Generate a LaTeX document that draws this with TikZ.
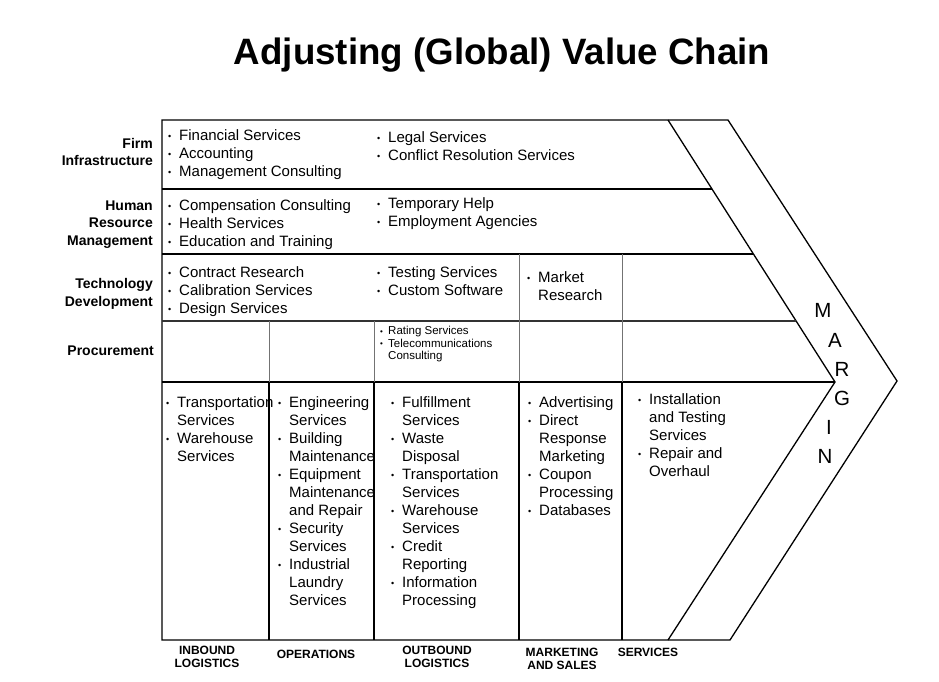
\documentclass[tikz,border=0pt]{standalone}
\usepackage{fontspec}
\setmainfont{Liberation Sans}
\newcommand\bt{\makebox[11pt][l]{\raisebox{1pt}{\fontsize{9}{9}\selectfont\textbullet}}}
\newcommand\bs{\makebox[8pt][l]{\raisebox{.5pt}{\fontsize{8}{8}\selectfont\textbullet}}}
\newcommand\lst[1]{\begin{tabular}[t]{@{}l@{}l@{}}#1\end{tabular}}
\newcommand\rlst[1]{\begin{tabular}[t]{@{}r@{}}#1\end{tabular}}
\newcommand\clst[1]{\begin{tabular}[t]{@{}c@{}}#1\end{tabular}}
\begin{document}
\begin{tikzpicture}
  [x=1pt,y=-1pt,every node/.style={inner sep=0pt},
   lbl/.style={anchor=base east,font=\bfseries\fontsize{14}{17.7}\selectfont},
   cell/.style={anchor=base west,font=\fontsize{15}{18}\selectfont},
   rcell/.style={anchor=base west,font=\fontsize{11.5}{12.7}\selectfont},
   act/.style={anchor=base,font=\bfseries\fontsize{12}{13}\selectfont},
   mgn/.style={anchor=base,font=\fontsize{20.5}{21}\selectfont},
   rule/.style={line width=1.3pt},
   thin/.style={line width=.9pt,black!55}]
  \useasboundingbox (0,0) rectangle (939,681);
  % title
  \node[anchor=base,font=\bfseries\fontsize{36.7}{40}\selectfont] (title) at (502,64)
    {Adjusting (Global) Value Chain};
  % frame and margin arrow
  \draw[rule] (162,120) -- (728,120) -- (897,381) -- (730,640) -- (162,640) -- cycle;
  \draw[rule] (668,120) -- (835,382) -- (668,640);
  \draw[rule] (162,382) -- (835,382);
  \foreach \y/\x in {189/712,254/753}
    \draw[rule] (162,\y) -- (\x,\y);
  \draw[line width=1.1pt,black!80] (162,321) -- (796,321);
  \foreach \x in {269,374,519,622}
    \draw[rule] (\x,382) -- (\x,640);
  \foreach \x in {519,622}
    \draw[thin] (\x,254) -- (\x,382);
  \foreach \x in {269,374}
    \draw[thin] (\x,321) -- (\x,382);
  % support activities
  \node[lbl] (firm) at (153,148) {\rlst{Firm\\Infrastructure}};
  \node[lbl] (hrm) at (153,210) {\rlst{Human\\Resource\\Management}};
  \node[lbl] (tech) at (153,288.5) {\rlst{Technology\\Development}};
  \node[lbl] (proc) at (154,355.5) {Procurement};
  \node[cell] (fin) at (168,140.5) {\lst{\bt&Financial Services\\\bt&Accounting\\\bt&Management Consulting}};
  \node[cell] (legal) at (377,142) {\lst{\bt&Legal Services\\\bt&Conflict Resolution Services}};
  \node[cell] (comp) at (168,210.5) {\lst{\bt&Compensation Consulting\\\bt&Health Services\\\bt&Education and Training}};
  \node[cell] (temp) at (377,208.5) {\lst{\bt&Temporary Help\\\bt&Employment Agencies}};
  \node[cell] (contr) at (168,277.5) {\lst{\bt&Contract Research\\\bt&Calibration Services\\\bt&Design Services}};
  \node[cell] (test) at (377,277.5) {\lst{\bt&Testing Services\\\bt&Custom Software}};
  \node[cell] (mres) at (527,282) {\lst{\bt&Market\\&Research}};
  \node[rcell] (rate) at (380,334.5) {\lst{\bs&Rating Services\\\bs&Telecommunications\\&Consulting}};
  % primary activities
  \node[cell] (inb) at (166,407.5) {\lst{\bt&Transportation\\&Services\\\bt&Warehouse\\&Services}};
  \node[cell] (ops) at (278,407.5) {\lst{\bt&Engineering\\&Services\\\bt&Building\\&Maintenance\\\bt&Equipment\\&Maintenance\\&and Repair\\\bt&Security\\&Services\\\bt&Industrial\\&Laundry\\&Services}};
  \node[cell] (outb) at (391,407.5) {\lst{\bt&Fulfillment\\&Services\\\bt&Waste\\&Disposal\\\bt&Transportation\\&Services\\\bt&Warehouse\\&Services\\\bt&Credit\\&Reporting\\\bt&Information\\&Processing}};
  \node[cell] (mks) at (528,407) {\lst{\bt&Advertising\\\bt&Direct\\&Response\\&Marketing\\\bt&Coupon\\&Processing\\\bt&Databases}};
  \node[cell] (svc) at (638,404) {\lst{\bt&Installation\\&and Testing\\&Services\\\bt&Repair and\\&Overhaul}};
  % activity names
  \node[act] (inbl) at (207,654) {\clst{INBOUND\\LOGISTICS}};
  \node[act] (opsl) at (316,658) {OPERATIONS};
  \node[act] (outbl) at (437,654) {\clst{OUTBOUND\\LOGISTICS}};
  \node[act] (mksl) at (562,656) {\clst{MARKETING\\AND SALES}};
  \node[act] (svcl) at (648,656) {SERVICES};
  % margin
  \foreach \l/\x/\y in {M/823/317,A/835/347,R/842/376,G/842/405,I/829/434,N/825/463}
    \node[mgn] (m\l) at (\x,\y) {\l};
\end{tikzpicture}
\end{document}
